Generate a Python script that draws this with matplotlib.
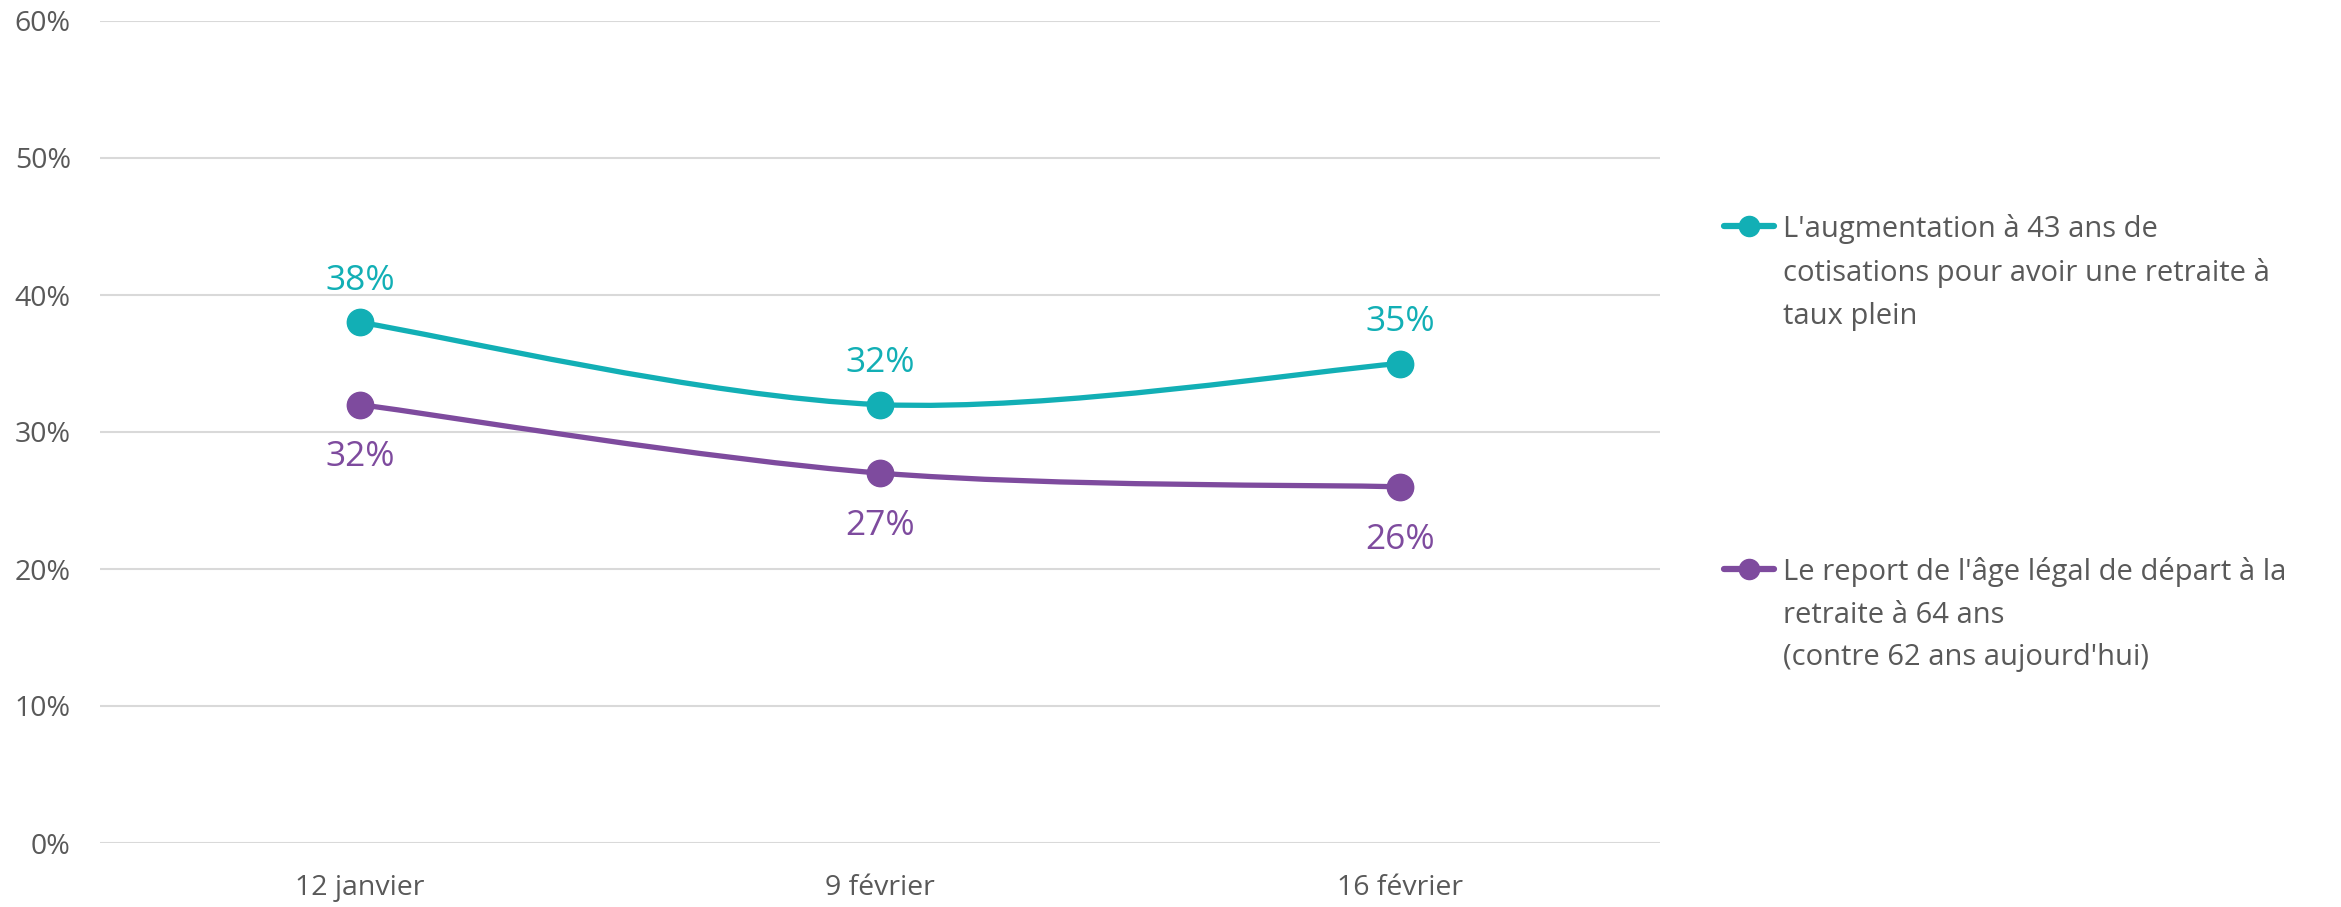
import matplotlib.pyplot as plt
import numpy as np
from matplotlib.path import Path
from matplotlib.patches import PathPatch
from matplotlib.lines import Line2D

plt.rcParams['font.family'] = ['Open Sans', 'DejaVu Sans']

# data
dates = ['12 janvier', '9 février', '16 février']
cotisations = [0.38, 0.32, 0.35]
age_legal = [0.32, 0.27, 0.26]
label_cotisations = "L'augmentation à 43 ans de\ncotisations pour avoir une retraite à\ntaux plein"
label_age = "Le report de l'âge légal de départ à la\nretraite à 64 ans\n(contre 62 ans aujourd'hui)"

teal = '#12AFB5'
purple = '#7E4B9E'
grey = '#595959'


def smooth_path(xs, ys):
    # excel-like smoothed line: cubic bezier segments through the points
    pts = np.column_stack([xs, ys]).astype(float)
    n = len(pts)
    verts = [pts[0]]
    codes = [Path.MOVETO]
    for i in range(n - 1):
        p0 = pts[i - 1] if i > 0 else pts[i]
        p1 = pts[i]
        p2 = pts[i + 1]
        p3 = pts[i + 2] if i + 2 < n else pts[i + 1]
        c1 = p1 + (p2 - p0) / 6
        c2 = p2 - (p3 - p1) / 6
        verts += [c1, c2, p2]
        codes += [Path.CURVE4] * 3
    return Path(verts, codes)


fig = plt.figure(figsize=(23.41, 9.07), dpi=100)
ax = fig.add_axes([100 / 2341, 64 / 907, 1560 / 2341, 822 / 907])

x = np.arange(len(dates))
for vals, col, above in [(cotisations, teal, True), (age_legal, purple, False)]:
    ax.add_patch(PathPatch(smooth_path(x, vals), facecolor='none', edgecolor=col, lw=3.8, zorder=3))
    ax.plot(x, vals, 'o', color=col, ms=19, zorder=4)
    for xi, v in zip(x, vals):
        off = 30 if above else -38
        ax.annotate(f'{v:.0%}', (xi, v), xytext=(0, off), textcoords='offset points',
                    ha='center', va='center', color=col, fontsize=25.5)

ax.set_xlim(-0.5, 2.5)
ax.set_ylim(0, 0.6)
ax.set_yticks(np.arange(0, 0.61, 0.1))
ax.set_yticklabels([f'{int(round(t * 100))}%' for t in np.arange(0, 0.61, 0.1)])
ax.set_xticks(x)
ax.set_xticklabels(dates)
ax.tick_params(axis='both', length=0, labelsize=20.5, colors=grey)
ax.tick_params(axis='y', pad=21)
ax.tick_params(axis='x', pad=22)
ax.grid(axis='y', color='#D9D9D9', lw=1.5)
ax.set_axisbelow(True)
for s in ax.spines.values():
    s.set_visible(False)

# legend drawn by hand on the right
for yc, col, txt in [(226, teal, label_cotisations), (569, purple, label_age)]:
    yf = 1 - yc / 907
    fig.add_artist(Line2D([1724 / 2341, 1774 / 2341], [yf, yf], color=col, lw=4.5,
                          solid_capstyle='round', transform=fig.transFigure))
    fig.add_artist(Line2D([1749 / 2341], [yf], marker='o', color=col, ms=14.5,
                          transform=fig.transFigure))
    fig.text(1783 / 2341, yf + 12 / 907, txt, ha='left', va='top', fontsize=21,
             color=grey, linespacing=1.62)

fig.savefig('out.png', dpi=100, facecolor='white')
